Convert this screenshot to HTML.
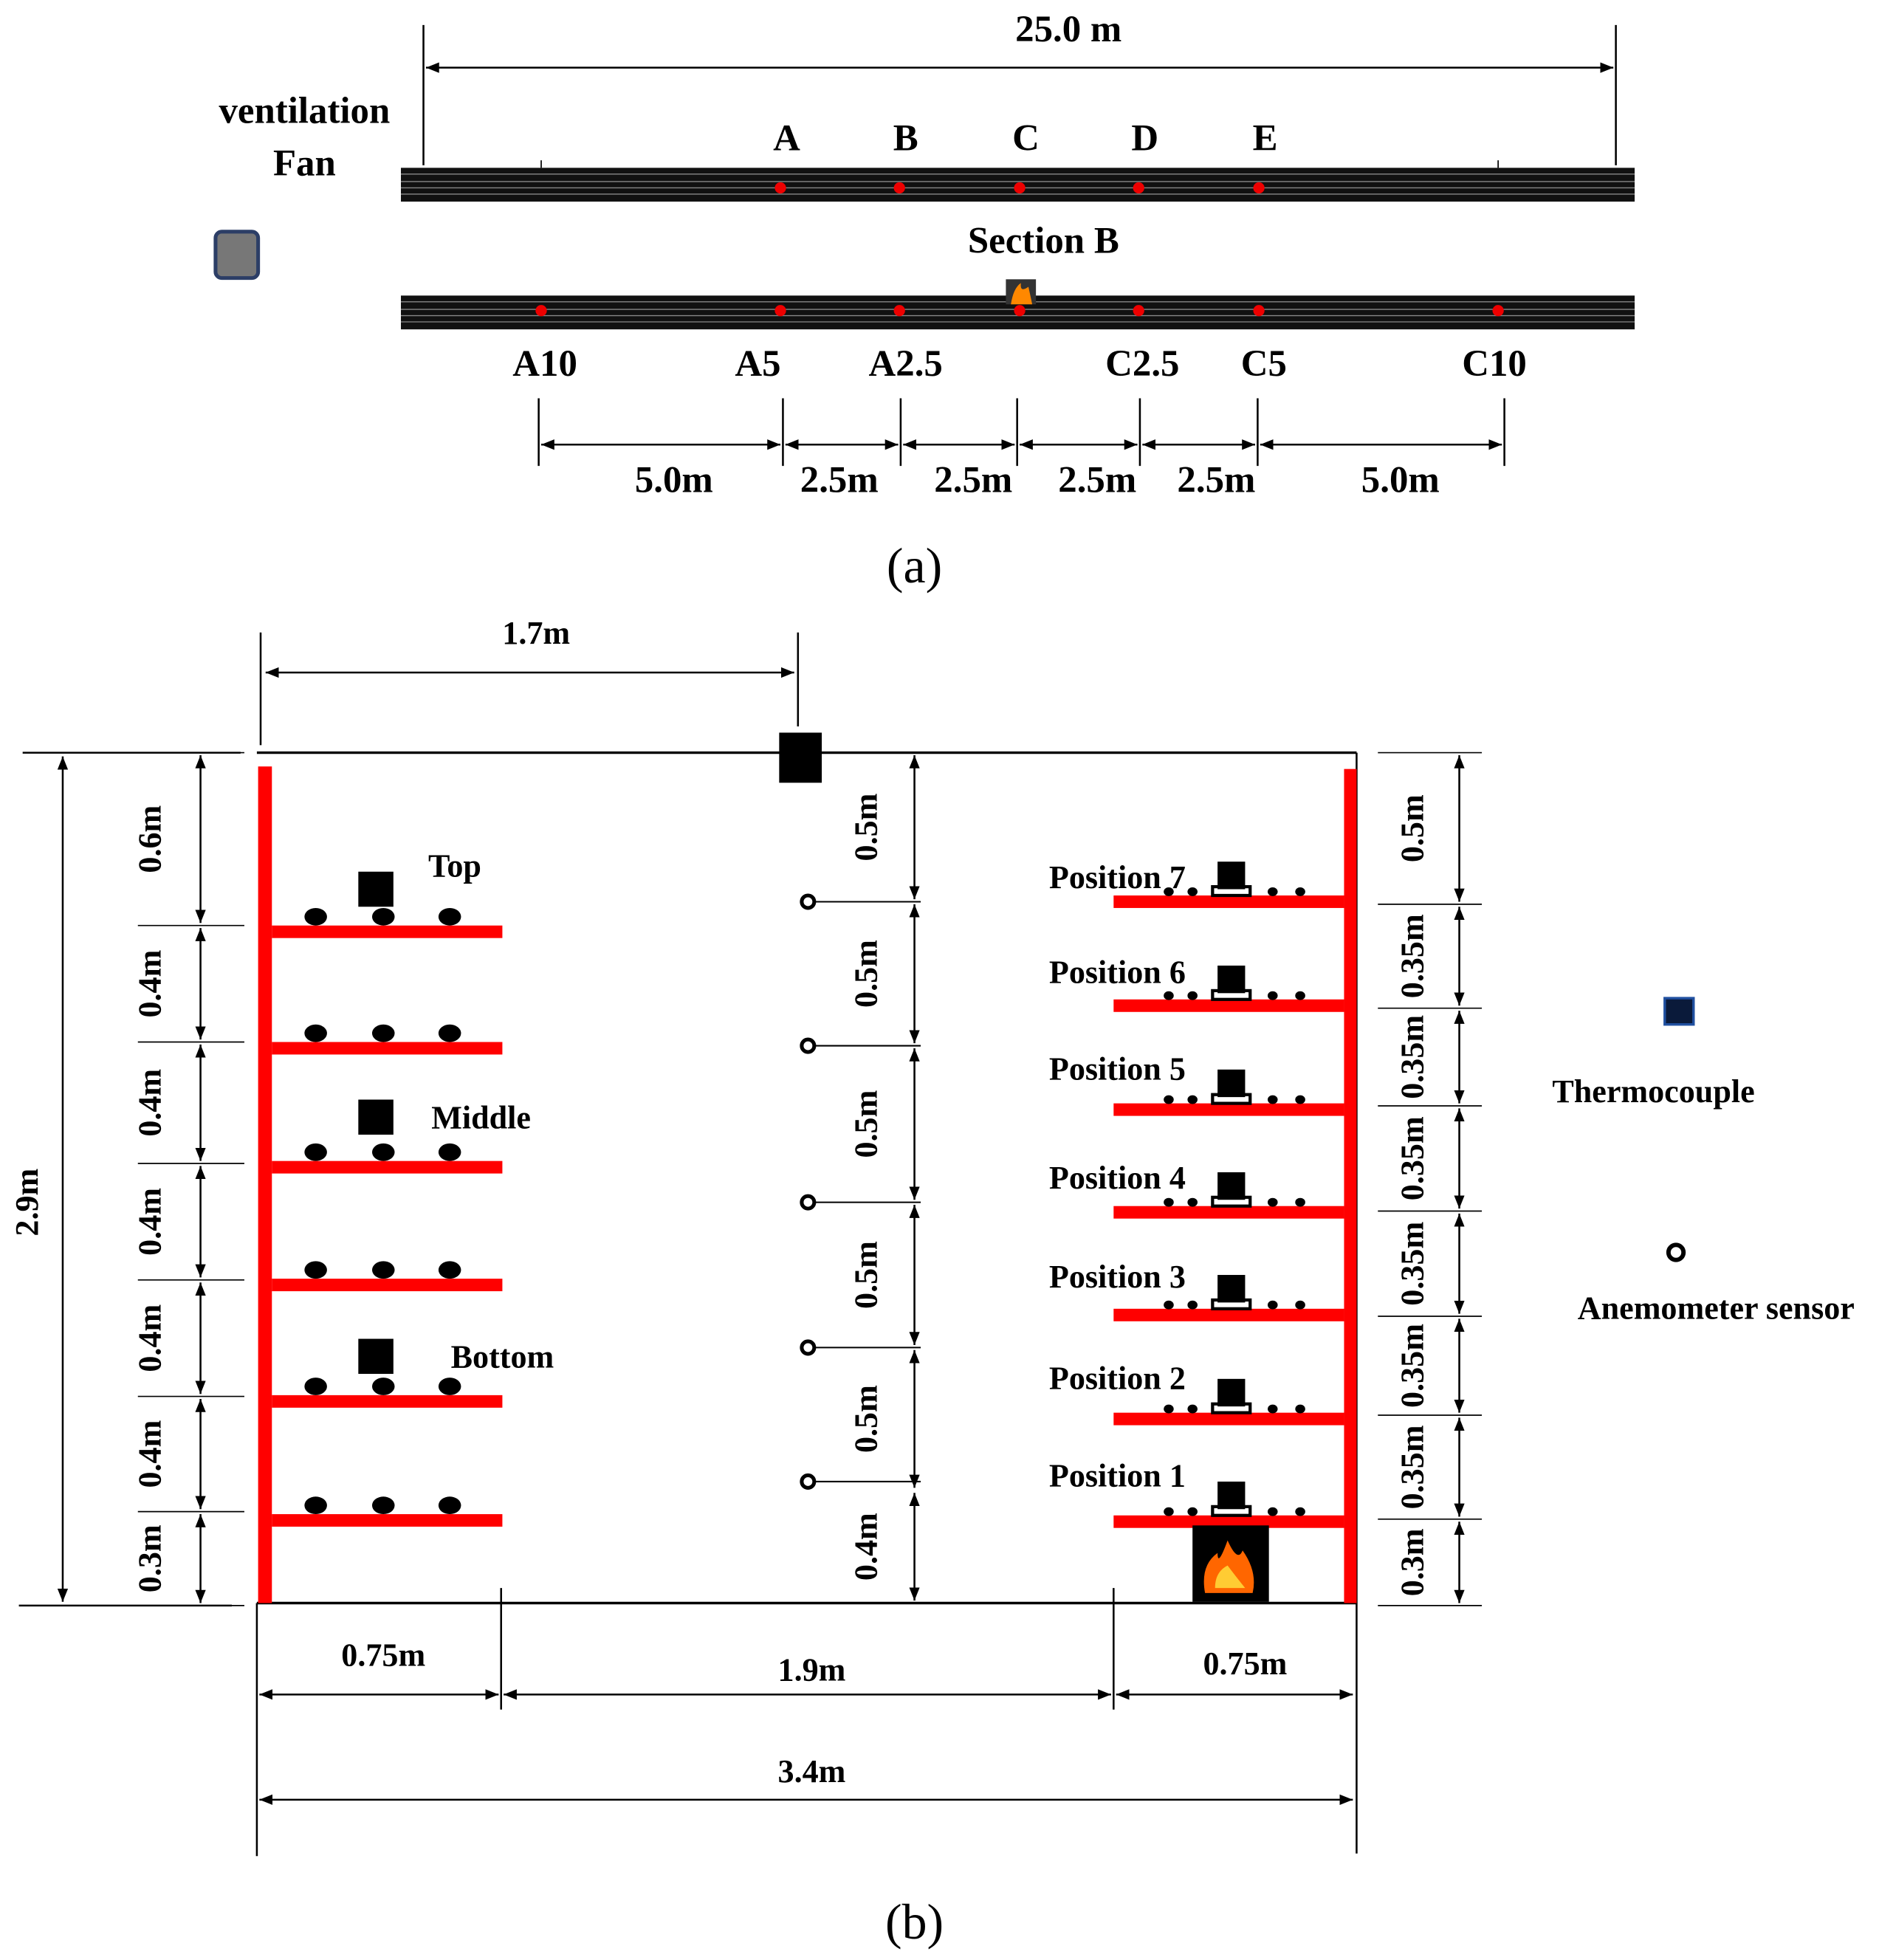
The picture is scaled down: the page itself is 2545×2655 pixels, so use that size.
<!DOCTYPE html>
<html><head><meta charset="utf-8"><style>
html,body{margin:0;padding:0;background:#fff}
svg{display:block}
text{font-family:"Liberation Serif",serif;fill:#000}
</style></head><body>
<svg id="fig" width="2545" height="2655" viewBox="0 0 1500 1565" xmlns="http://www.w3.org/2000/svg">
<defs>
<marker id="ar" viewBox="0 0 10 10" refX="10" refY="5" markerWidth="7" markerHeight="7" orient="auto-start-reverse"><path d="M0,1 L10,5 L0,9 z" fill="#000"/></marker>
</defs>
<g id="g"></g>
</svg>
<script>
const NS='http://www.w3.org/2000/svg';
const G=document.getElementById('g');
function el(t,a,name,parent){const e=document.createElementNS(NS,t);for(const k in a)e.setAttribute(k,a[k]);


(parent||G).appendChild(e);return e;}
function line(x1,y1,x2,y2,name,w,arrows){const a={x1,y1,x2,y2,stroke:'#000','stroke-width':w||1.5};
if(arrows){a['marker-start']='url(#ar)';a['marker-end']='url(#ar)';}return el('line',a,name);}
function txt(x,y,s,name,size,rot,weight){const a={x,y,'font-size':size||26,'text-anchor':'middle','font-weight':weight||'bold'};
if(rot)a.transform=`rotate(-90 ${x} ${y})`;
const e=el('text',a,name);e.textContent=s;return e;}

// ===== (a) =====
const topPtX=[623,718,814,909,1005], topLab=['A','B','C','D','E'];
const botPtX=[432,623,718,814,909,1005,1196];
const botLab=['A10','A5','A2.5','C2.5','C5','C10'], botLabX=[435,605,723,912,1009,1193];
const dimTickX=[430,625,719,812,910,1004,1201];
const dimLab=['5.0m','2.5m','2.5m','2.5m','2.5m','5.0m'];
const dimLabX=[538,670,777,876,971,1118];

line(338,20,338,132,'overall-left-tick');line(1290,20,1290,132,'overall-right-tick');
line(340,54,1288,54,'overall-dimension-line',1.5,true);
txt(853,33,'25.0 m','overall-length-label',30);
txt(243,98,'ventilation','ventilation-label',30);txt(243,140,'Fan','fan-label',30);
el('rect',{x:172,y:185,width:34,height:37,rx:5,fill:'#777',stroke:'#2c3e66','stroke-width':3},'ventilation-fan-icon');
function tunnel(y,name){el('rect',{x:320,y:y,width:985,height:27,fill:'#111'},name);
[5,11,16,21].forEach(d=>el('line',{x1:320,y1:y+d,x2:1305,y2:y+d,stroke:'#888','stroke-width':0.8},name+'-stripe'));}
tunnel(134,'tunnel-top-view');tunnel(236,'tunnel-bottom-view');
[432,1196].forEach(x=>line(x,128,x,134,'tunnel-mark',1));
topPtX.forEach((x,i)=>{el('circle',{cx:x,cy:150,r:4.5,fill:'#e00'},'measurement-point-'+topLab[i]);txt(x+5,120,topLab[i],'point-label-'+topLab[i],30);});
txt(833,202,'Section B','section-b-label',30);
el('rect',{x:803,y:223,width:24,height:20,fill:'#333'},'fire-source-icon');
el('path',{d:'M807,243 Q809,230 815,226 Q814,234 821,229 Q823,238 824,243 Z',fill:'#f80'},'fire-flame');
botPtX.forEach((x,i)=>el('circle',{cx:x,cy:248,r:4.5,fill:'#e00'},'measurement-point-lower'));
botLab.forEach((s,i)=>txt(botLabX[i],300,s,'point-label-'+s,30));
dimTickX.forEach(x=>line(x,318,x,372,'dimension-tick'));
dimLab.forEach((s,i)=>{line(dimTickX[i]+2,355,dimTickX[i+1]-2,355,'spacing-dimension',1.5,true);
txt(dimLabX[i],393,s,'spacing-label',30);});
txt(730,465,'(a)','panel-a-label',40,0,'normal');

// ===== (b) =====
line(208,505,208,595,'width-ref-left');line(637,505,637,580,'width-ref-center');
line(212,537,634,537,'half-width-dimension',1.5,true);txt(428,514,'1.7m','half-width-label',26);
line(205,601,1083,601,'ceiling-line',2);line(205,1280,1083,1280,'floor-line',2);
line(1083,601,1083,1280,'right-wall-line',1.5);
el('rect',{x:206,y:612,width:11,height:668,fill:'#f00'},'left-rack-upright');
el('rect',{x:1073,y:614,width:10,height:666,fill:'#f00'},'right-rack-upright');

const leftShelfY=[744,837,932,1026,1119,1214];
const leftDotX=[252,306,359];
leftShelfY.forEach(y=>{el('rect',{x:217,y:y-5,width:184,height:10,fill:'#f00'},'left-shelf');
leftDotX.forEach(x=>el('ellipse',{cx:x,cy:y-12,rx:9,ry:7,fill:'#000'},'left-shelf-item'));});
const tcLeft=[[300,710,'Top',363,691],[300,892,'Middle',384,892],[300,1083,'Bottom',401,1083]];
tcLeft.forEach(t=>{el('rect',{x:t[0]-14,y:t[1]-14,width:28,height:28,fill:'#000'},'thermocouple-'+t[2].toLowerCase());txt(t[3],t[4]+9,t[2],'label-'+t[2].toLowerCase(),26);});

// left dims
line(18,601,192,601,'left-dim-top-ref');line(15,1282,185,1282,'left-dim-bottom-ref');
line(50,604,50,1279,'height-dimension',1.5,true);txt(30,960,'2.9m','height-label',26,true);
const lTickY=[601,739,832,929,1022,1115,1207,1282], lLab=['0.6m','0.4m','0.4m','0.4m','0.4m','0.4m','0.3m'];
lTickY.forEach(y=>line(110,y,195,y,'left-level-ref',1));
lLab.forEach((s,i)=>{line(160,lTickY[i]+2,160,lTickY[i+1]-2,'left-level-dimension',1.5,true);txt(128,(lTickY[i]+lTickY[i+1])/2,s,'left-level-label',26,true);});

// center
el('rect',{x:622,y:585,width:34,height:40,fill:'#000'},'ceiling-thermocouple');
const anemY=[720,835,960,1076,1183];
anemY.forEach(y=>{el('circle',{cx:645,cy:y,r:5,fill:'#fff',stroke:'#000','stroke-width':3},'anemometer-sensor');line(651,y,735,y,'anemometer-ref',1.2);});
const cTickY=[601,720,835,960,1076,1190,1280], cLab=['0.5m','0.5m','0.5m','0.5m','0.5m','0.4m'];
cLab.forEach((s,i)=>{line(730,cTickY[i]+2,730,cTickY[i+1]-2,'center-dimension',1.5,true);txt(700,(cTickY[i]+cTickY[i+1])/2,s,'center-level-label',26,true);});

// right shelves
const rShelfY=[720,803,886,968,1050,1133,1215];
const posLab=['Position 7','Position 6','Position 5','Position 4','Position 3','Position 2','Position 1'];
const posY=[700,776,853,940,1019,1100,1178];
const rDotX=[933,952,1016,1038];
rShelfY.forEach((y,i)=>{el('rect',{x:889,y:y-5,width:184,height:10,fill:'#f00'},'right-shelf');
el('rect',{x:972,y:y-32,width:22,height:22,fill:'#000'},'position-thermocouple');
el('rect',{x:968,y:y-12,width:30,height:7,fill:'none',stroke:'#000','stroke-width':2.5},'position-stand');
rDotX.forEach(x=>el('ellipse',{cx:x,cy:y-8,rx:4,ry:3.5,fill:'#000'},'right-shelf-item'));
txt(892,posY[i]+9,posLab[i],'label-position-'+(7-i),26);});
el('rect',{x:952,y:1218,width:61,height:61,fill:'#000'},'fire-source-box');
el('path',{d:'M962,1272 Q958,1250 972,1240 Q972,1252 980,1230 Q988,1248 992,1238 Q1004,1255 1000,1272 Z',fill:'#f60'},'fire-flame-b');
el('path',{d:'M970,1268 Q970,1255 980,1250 Q986,1258 994,1268 Z',fill:'#fc3'},'fire-core');

const rTickY=[601,722,805,883,967,1051,1130,1213,1282], rLab=['0.5m','0.35m','0.35m','0.35m','0.35m','0.35m','0.35m','0.3m'];
rTickY.forEach(y=>line(1100,y,1183,y,'right-level-ref',1));
rLab.forEach((s,i)=>{line(1165,rTickY[i]+2,1165,rTickY[i+1]-2,'right-level-dimension',1.5,true);txt(1136,(rTickY[i]+rTickY[i+1])/2,s,'right-level-label',26,true);});

// legend
el('rect',{x:1329,y:797,width:23,height:21,fill:'#0a1a3a',stroke:'#2050a0','stroke-width':2},'legend-thermocouple-icon');
txt(1320,880,'Thermocouple','legend-thermocouple-label',26);
el('circle',{cx:1338,cy:1000,r:6,fill:'#fff',stroke:'#000','stroke-width':3.5},'legend-anemometer-icon');
txt(1370,1053,'Anemometer sensor','legend-anemometer-label',26);

// bottom dims
line(205,1280,205,1482,'bottom-ref-left');line(400,1268,400,1365,'bottom-ref-aisle-left');
line(889,1268,889,1365,'bottom-ref-aisle-right');line(1083,1280,1083,1480,'bottom-ref-right');
line(207,1353,398,1353,'left-rack-width-dim',1.5,true);line(402,1353,887,1353,'aisle-width-dim',1.5,true);line(891,1353,1080,1353,'right-rack-width-dim',1.5,true);
txt(306,1330,'0.75m','left-rack-width-label',26);txt(648,1342,'1.9m','aisle-width-label',26);txt(994,1337,'0.75m','right-rack-width-label',26);
line(207,1437,1080,1437,'total-width-dim',1.5,true);txt(648,1423,'3.4m','total-width-label',26);
txt(730,1548,'(b)','panel-b-label',40,0,'normal');
</script>
</body></html>
